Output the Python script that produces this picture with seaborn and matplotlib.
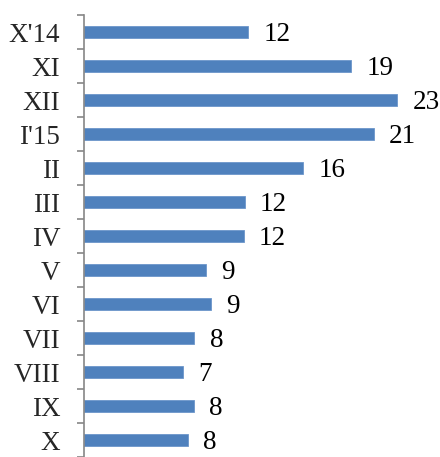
import matplotlib
matplotlib.use('Agg')
import matplotlib.pyplot as plt
import numpy as np
import pandas as pd
import seaborn as sns

# Miesiące (od góry) i wartości
months = ["X'14", "XI", "XII", "I'15", "II", "III", "IV", "V", "VI", "VII", "VIII", "IX", "X"]
values = [11.9, 19.35, 22.7, 21.0, 15.9, 11.65, 11.57, 8.82, 9.18, 8.0, 7.15, 7.95, 7.54]

df = pd.DataFrame({'month': months, 'value': values})

sns.set_style('white')
plt.rcParams['font.family'] = ['Liberation Serif', 'DejaVu Serif']

fig = plt.figure(figsize=(4.4, 4.57), dpi=100)
ax = fig.add_axes([84 / 440, 0.0, 356 / 440, 1 - 15 / 457])

sns.barplot(data=df, x='value', y='month', orient='h', color='#4F81BD',
            saturation=1, width=0.37, edgecolor='#6C96CB', linewidth=0.6, ax=ax)

ax.set_xlim(0, 25.8)
ax.set_ylim(len(months) - 0.5, -0.5)

# etykiety z wartościami
for i, v in enumerate(values):
    ax.annotate(f"{v:.0f}", xy=(v, i), xytext=(11, -1.5), textcoords='offset points',
                ha='left', va='center', fontsize=19.5, color='black', annotation_clip=False)

ax.set_xlabel('')
ax.set_ylabel('')
ax.set_xticks([])
for side in ['top', 'right', 'bottom']:
    ax.spines[side].set_visible(False)
ax.spines['left'].set_color('#868686')
ax.spines['left'].set_linewidth(1.2)

ax.set_yticks(np.arange(len(months)))
ax.set_yticklabels(months, fontsize=19.5)
ax.tick_params(axis='y', which='major', left=False, length=0, pad=17)
ax.set_yticks(np.arange(len(months) + 1) - 0.5, minor=True)
ax.tick_params(axis='y', which='minor', left=True, length=5, width=1.2,
               color='#868686', direction='out')

fig.savefig('out.png', dpi=100)
